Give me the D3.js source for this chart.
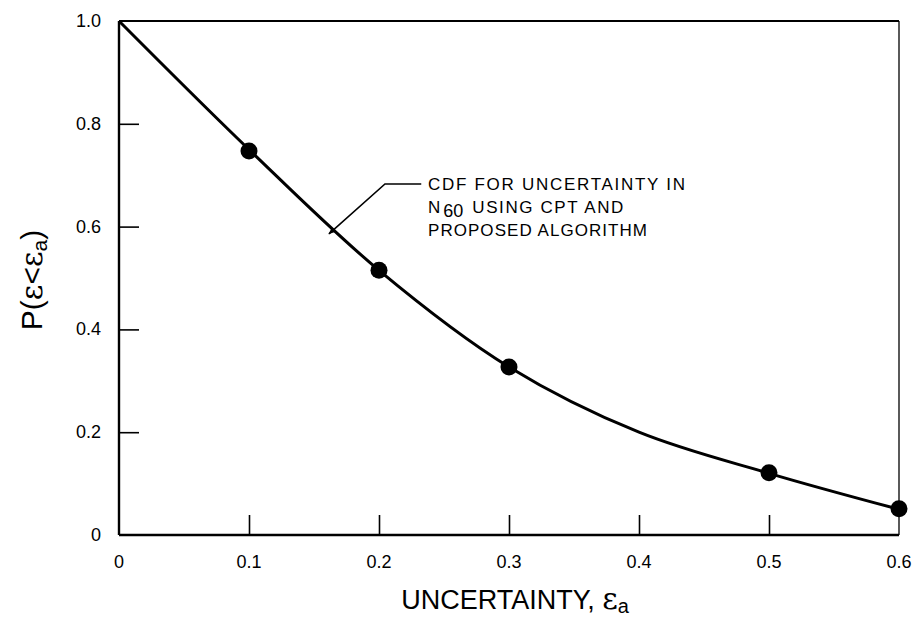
<!DOCTYPE html>
<html>
<head>
<meta charset="utf-8">
<script src="https://cdn.jsdelivr.net/npm/d3@7"></script>
<style>
  html, body { margin: 0; padding: 0; background: #fff; }
  svg { display: block; }
  text { font-family: "Liberation Sans", Arial, sans-serif; fill: #000; }
</style>
</head>
<body>
<svg id="chart" width="919" height="618"></svg>
<script>
// Fitted CDF curve (uncertainty vs. probability)
const curveX = [0, 0.1, 0.2, 0.3, 0.4, 0.5, 0.6];
const curveY = [1.0, 0.75, 0.515, 0.327, 0.2, 0.12, 0.05];
// Computed points
const pointX = [0.1, 0.2, 0.3, 0.5, 0.6];
const pointY = [0.747, 0.515, 0.327, 0.121, 0.051];
// Tick labels
const xTicks = [0, 0.1, 0.2, 0.3, 0.4, 0.5, 0.6];
const xTickLabels = ["0", "0.1", "0.2", "0.3", "0.4", "0.5", "0.6"];
const yTicks = [0, 0.2, 0.4, 0.6, 0.8, 1.0];
const yTickLabels = ["0", "0.2", "0.4", "0.6", "0.8", "1.0"];
// Callout text lines
const noteLines = ["CDF FOR UNCERTAINTY IN", "USING CPT AND", "PROPOSED ALGORITHM"];

const svg = d3.select("#chart");
const plotL = 119, plotR = 899, plotT = 21, plotB = 535;

const x = d3.scaleLinear().domain([0, 0.6]).range([plotL, plotR]);
const y = d3.scaleLinear().domain([0, 1]).range([plotB, plotT]);

// Frame
svg.append("line").attr("x1", plotL).attr("x2", plotR).attr("y1", plotT).attr("y2", plotT)
  .attr("stroke", "#000").attr("stroke-width", 2);
svg.append("line").attr("x1", plotR).attr("x2", plotR).attr("y1", plotT).attr("y2", plotB)
  .attr("stroke", "#000").attr("stroke-width", 1.3);

// X axis: inner ticks pointing up
const xAxis = d3.axisBottom(x)
  .tickValues(xTicks.filter(v => v > 0 && v < 0.6))
  .tickSize(-20).tickPadding(0).tickFormat("");
svg.append("g").attr("transform", `translate(0,${plotB})`).call(xAxis)
  .call(g => g.select(".domain").remove())
  .call(g => g.selectAll(".tick line").attr("stroke-width", 1.6));
svg.append("line").attr("x1", plotL).attr("x2", plotR).attr("y1", plotB).attr("y2", plotB)
  .attr("stroke", "#000").attr("stroke-width", 2.4);
svg.append("g").selectAll("text").data(xTicks).join("text")
  .attr("x", d => x(d)).attr("y", plotB + 33)
  .attr("text-anchor", "middle")
  .style("font-size", "18px")
  .text((d, i) => xTickLabels[i]);

// Y axis: inner ticks pointing right
const yAxis = d3.axisLeft(y)
  .tickValues(yTicks.filter(v => v > 0 && v < 1))
  .tickSize(-20).tickFormat("");
svg.append("g").attr("transform", `translate(${plotL},0)`).call(yAxis)
  .call(g => g.select(".domain").remove())
  .call(g => g.selectAll(".tick line").attr("stroke-width", 1.6));
svg.append("line").attr("x1", plotL).attr("x2", plotL).attr("y1", plotT).attr("y2", plotB)
  .attr("stroke", "#000").attr("stroke-width", 2.4);
svg.append("g").selectAll("text").data(yTicks).join("text")
  .attr("x", plotL - 18).attr("y", d => y(d) + 6)
  .attr("text-anchor", "end")
  .style("font-size", "18px")
  .text((d, i) => yTickLabels[i]);

// CDF curve
const line = d3.line()
  .x(d => x(d[0])).y(d => y(d[1]))
  .curve(d3.curveCatmullRom.alpha(0.5));
svg.append("path")
  .datum(curveX.map((v, i) => [v, curveY[i]]))
  .attr("d", line)
  .attr("fill", "none").attr("stroke", "#000").attr("stroke-width", 3);

// Points
svg.append("g").selectAll("circle").data(pointX).join("circle")
  .attr("cx", d => x(d)).attr("cy", (d, i) => y(pointY[i]))
  .attr("r", 8.5).attr("fill", "#000");

// Callout with leader arrow
const tip = [0.1615, 0.586], elbow = [0.2046, 0.683], lead = [0.2325, 0.683];
svg.append("defs").append("marker")
  .attr("id", "arrow").attr("viewBox", "0 0 10 10").attr("refX", 9).attr("refY", 5)
  .attr("markerWidth", 10).attr("markerHeight", 7).attr("orient", "auto")
  .attr("markerUnits", "userSpaceOnUse")
  .append("path").attr("d", "M0,1 L10,5 L0,9 Z").attr("fill", "#000");
svg.append("path")
  .attr("d", `M${x(lead[0])},${y(lead[1])} L${x(elbow[0])},${y(elbow[1])} L${x(tip[0])},${y(tip[1])}`)
  .attr("fill", "none").attr("stroke", "#000").attr("stroke-width", 1.6)
  .attr("marker-end", "url(#arrow)");

const noteX = x(0.2377);
const noteY = y(0.683);
const note = svg.append("g").style("font-size", "17px");
note.append("text").attr("x", noteX).attr("y", noteY + 6)
  .attr("textLength", 257).attr("lengthAdjust", "spacing").text(noteLines[0]);
const l2 = note.append("text").attr("x", noteX).attr("y", noteY + 29);
l2.append("tspan").text("N");
l2.append("tspan").attr("dx", 3).attr("dy", 4).style("font-size", "18px").text("60");
l2.append("tspan").attr("dx", 9).attr("dy", -4)
  .attr("textLength", 151).attr("lengthAdjust", "spacing").text(noteLines[1]);
note.append("text").attr("x", noteX).attr("y", noteY + 52)
  .attr("textLength", 219).attr("lengthAdjust", "spacing").text(noteLines[2]);

// Axis titles
const xt = svg.append("text").attr("x", 515).attr("y", 609)
  .attr("text-anchor", "middle").style("font-size", "27px");
xt.append("tspan").text("UNCERTAINTY,  ");
xt.append("tspan").style("font-family", "DejaVu Serif, serif").style("font-size", "30px").text("ε");
xt.append("tspan").attr("dy", 4).style("font-size", "20px").text("a");

const yt = svg.append("text")
  .attr("transform", `translate(42,${280}) rotate(-90)`)
  .attr("text-anchor", "middle").style("font-size", "30px");
yt.append("tspan").text("P(");
yt.append("tspan").style("font-family", "DejaVu Serif, serif").text("ε");
yt.append("tspan").text("<");
yt.append("tspan").style("font-family", "DejaVu Serif, serif").text("ε");
yt.append("tspan").attr("dy", 5).style("font-size", "21px").text("a");
yt.append("tspan").attr("dy", -5).text(")");
</script>
</body>
</html>
